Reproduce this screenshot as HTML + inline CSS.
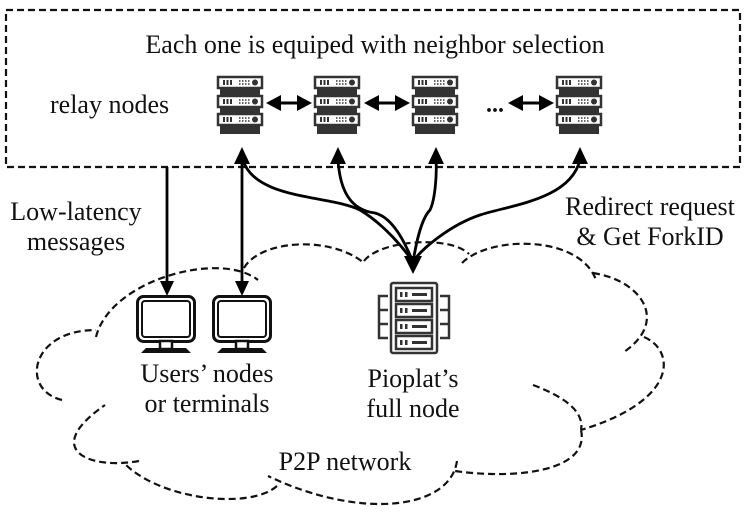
<!DOCTYPE html>
<html><head><meta charset="utf-8"><style>
html,body{margin:0;padding:0;background:#fff;}
svg{display:block;}
</style></head><body>
<svg width="747" height="517" viewBox="0 0 747 517" xmlns="http://www.w3.org/2000/svg">
<defs>
<g id="srv">
<g fill="#fff" stroke="#333" stroke-width="2.5">
<rect x="1" y="1" width="44" height="11"/>
<rect x="1" y="20" width="44" height="11"/>
<rect x="1" y="38" width="44" height="11"/>
</g>
<g fill="#333">
<rect x="3" y="12" width="40" height="7"/>
<rect x="3" y="31" width="40" height="6"/>
<rect x="3" y="49" width="40" height="9"/>
</g>
<g fill="#333">
<rect x="6" y="4" width="2" height="5"/><rect x="9.5" y="4" width="2" height="5"/><rect x="13" y="4" width="2" height="5"/>
<circle cx="38" cy="6.5" r="3"/>
<rect x="6" y="23" width="2" height="5"/><rect x="9.5" y="23" width="2" height="5"/><rect x="13" y="23" width="2" height="5"/>
<circle cx="38" cy="25.5" r="3"/>
<rect x="6" y="41" width="2" height="5"/><rect x="9.5" y="41" width="2" height="5"/><rect x="13" y="41" width="2" height="5"/>
<circle cx="38" cy="43.5" r="3"/>
</g>
<g stroke="#333" stroke-width="1.5" stroke-dasharray="1.5 1.5">
<line x1="22" y1="5" x2="33" y2="5"/><line x1="22" y1="8" x2="33" y2="8"/>
<line x1="22" y1="24" x2="33" y2="24"/><line x1="22" y1="27" x2="33" y2="27"/>
<line x1="22" y1="42" x2="33" y2="42"/><line x1="22" y1="45" x2="33" y2="45"/>
</g>
</g>
<g id="mon">
<rect x="1.5" y="1.5" width="57" height="45" rx="6" fill="#fff" stroke="#111" stroke-width="3"/>
<rect x="6" y="6" width="48" height="36" rx="3" fill="#fff" stroke="#111" stroke-width="2"/>
<rect x="24" y="46" width="12" height="8" fill="#fff" stroke="#111" stroke-width="2.5"/>
<path d="M5,58 L10,53 L50,53 L55,58 Z" fill="#111"/>
</g>
</defs>

<rect x="6" y="10" width="734" height="157" fill="none" stroke="#111" stroke-width="2.2" stroke-dasharray="7 4"/>
<g font-family="'Liberation Serif', serif" font-size="26" fill="#111">
<text x="375" y="53" text-anchor="middle">Each one is equiped with neighbor selection</text>
<text x="50" y="113">relay nodes</text>
</g>

<use href="#srv" x="217" y="76"/>
<use href="#srv" x="314" y="76"/>
<use href="#srv" x="412" y="76"/>
<use href="#srv" x="556" y="76"/>

<g stroke="#000" stroke-width="3" fill="none">
<line x1="278" y1="103" x2="300" y2="103"/>
<line x1="375" y1="103" x2="398" y2="103"/>
<line x1="520" y1="103" x2="542" y2="103"/>
</g>
<g fill="#000">
<path d="M266,103 L281,95 L281,111 Z"/><path d="M312,103 L297,95 L297,111 Z"/>
<path d="M364,103 L379,95 L379,111 Z"/><path d="M410,103 L395,95 L395,111 Z"/>
<path d="M508,103 L523,95 L523,111 Z"/><path d="M554,103 L539,95 L539,111 Z"/>
</g>
<text x="486" y="112" font-family="'Liberation Serif', serif" font-size="24" font-weight="bold" fill="#111">...</text>

<!-- connectors -->
<g stroke="#000" stroke-width="2.8" fill="none">
<path d="M243,160 C255,200 330,195 360,210 C385,225 405,250 413,262"/>
<path d="M338,160 C340,190 350,210 375,213 C395,218 408,250 413,262"/>
<path d="M436,160 C437,175 435,200 430,210 C420,220 415,250 413,262"/>
<path d="M580,160 C570,200 510,205 480,215 C450,225 420,250 413,262"/>
<line x1="167" y1="167" x2="167" y2="284"/>
<line x1="242" y1="160" x2="242" y2="284"/>
</g>
<g fill="#000">
<path d="M242,147 L234,164 L250,164 Z"/>
<path d="M338,147 L330,164 L346,164 Z"/>
<path d="M436,147 L428,164 L444,164 Z"/>
<path d="M580,147 L572,164 L588,164 Z"/>
<path d="M413,274 L404,256 L422,256 Z"/>
<path d="M167,296 L160,281 L174,281 Z"/>
<path d="M242,296 L235,281 L249,281 Z"/>
</g>

<!-- cloud -->
<path d="M96,337 C110,280 220,250 258,280
M244,268 C260,240 330,235 364,263
M364,261 C380,240 450,235 469,254
M462,263 C490,235 580,235 596,280
M593,273 C640,280 670,320 624,352
M644,337 C675,350 680,400 581,430
M533,385 C560,395 585,410 581,430
M581,430 C590,470 520,480 455,471
M457,461 C450,510 360,520 268,476
M277,486 C250,510 160,500 124,463
M139,461 C90,470 40,450 105,405
M62,400 C20,390 30,330 96,330"
fill="none" stroke="#111" stroke-width="2.2" stroke-dasharray="7 4"/>

<use href="#mon" x="136" y="295"/>
<use href="#mon" x="212" y="295"/>

<!-- full node -->
<g fill="none" stroke="#333" stroke-width="2.5">
<rect x="391" y="283" width="46" height="70" rx="2"/>
<rect x="396" y="288" width="36" height="13"/>
<rect x="396" y="304" width="36" height="13"/>
<rect x="396" y="320" width="36" height="13"/>
<rect x="396" y="336" width="36" height="13"/>
<path d="M388,296 H379 V338 H388 M379,310 H388 M379,324 H388"/>
<path d="M440,296 H449 V338 H440 M449,310 H440 M449,324 H440"/>
</g>
<g fill="#333">
<rect x="400" y="292" width="2.5" height="5"/><rect x="405" y="292" width="2.5" height="5"/><rect x="412" y="293" width="15" height="3"/>
<rect x="400" y="308" width="2.5" height="5"/><rect x="405" y="308" width="2.5" height="5"/><rect x="412" y="309" width="15" height="3"/>
<rect x="400" y="324" width="2.5" height="5"/><rect x="405" y="324" width="2.5" height="5"/><rect x="412" y="325" width="15" height="3"/>
<rect x="400" y="340" width="2.5" height="5"/><rect x="405" y="340" width="2.5" height="5"/><rect x="412" y="341" width="15" height="3"/>
</g>

<g font-family="'Liberation Serif', serif" font-size="26" fill="#111" text-anchor="middle">
<text x="76" y="220">Low-latency</text>
<text x="76" y="250">messages</text>
<text x="650" y="215">Redirect request</text>
<text x="650" y="245">&amp; Get ForkID</text>
<text x="207" y="382">Users’ nodes</text>
<text x="207" y="412">or terminals</text>
<text x="413" y="387">Pioplat’s</text>
<text x="413" y="417">full node</text>
<text x="345" y="470">P2P network</text>
</g>
</svg>
</body></html>
